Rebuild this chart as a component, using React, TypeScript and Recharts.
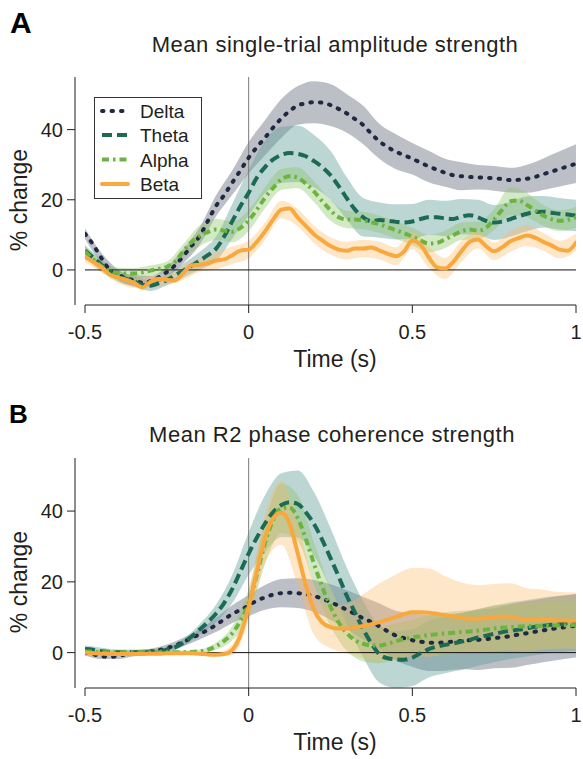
import { Area, ComposedChart, Line, ReferenceLine, XAxis, YAxis } from "recharts";

const FONT = "'Liberation Sans', Arial, sans-serif";
const INK = "#231f20";

// time grid (s), step 0.025
const TIME = [
  -0.5, -0.475, -0.45, -0.425, -0.4, -0.375, -0.35, -0.325, -0.3, -0.275,
  -0.25, -0.225, -0.2, -0.175, -0.15, -0.125, -0.1, -0.075, -0.05, -0.025,
  0, 0.025, 0.05, 0.075, 0.1, 0.125, 0.15, 0.175, 0.2, 0.225,
  0.25, 0.275, 0.3, 0.325, 0.35, 0.375, 0.4, 0.425, 0.45, 0.475,
  0.5, 0.525, 0.55, 0.575, 0.6, 0.625, 0.65, 0.675, 0.7, 0.725,
  0.75, 0.775, 0.8, 0.825, 0.85, 0.875, 0.9, 0.925, 0.95, 0.975, 1,
];
// bands are read on every other time point (step 0.05)
const BAND_TIME = TIME.filter((_, i) => i % 2 === 0);

const X_TICKS = [-0.5, 0, 0.5, 1];
const Y_TICKS = [0, 20, 40];

// Panel A: single-trial amplitude (% change)
const A_DELTA = [
  10.3, 7.2, 3.4, 0.1, -1.3, -2.3, -3, -3.6, -3.2, -2.1,
  -0.6, 1.3, 3.9, 6.8, 9.6, 13.9, 18.2, 21.3, 24.9, 28.4,
  32, 35, 37.7, 40.6, 43.2, 45.3, 46.9, 47.5, 47.8, 47.7,
  47, 45.9, 44.6, 43, 41.3, 38.8, 36.6, 35, 33.7, 32.7,
  31.7, 30.6, 29.5, 28.6, 27.7, 27, 26.7, 26.5, 26.4, 26.3,
  26.1, 25.9, 25.6, 25.7, 26, 26.5, 27.3, 28, 28.8, 29.5, 30.3,
];
const A_THETA = [
  5.5, 3.5, 1.5, -0.5, -1.8, -2.5, -3.3, -4.2, -4.5, -3.8,
  -2.9, -1.5, -0.2, 1.2, 2.6, 4.2, 6, 9.5, 13.9, 18.2,
  22, 26.3, 29.3, 31.5, 32.8, 33.3, 33.1, 32.4, 31, 29.3,
  27, 23.9, 20.4, 17.2, 15, 13.9, 14.2, 14, 13.7, 13.5,
  13.8, 14.5, 15, 15, 14.7, 14.5, 15.2, 15.6, 15, 14,
  13.5, 13.8, 14.5, 15.3, 16, 16.5, 16.6, 16.3, 16, 15.8, 15.5,
];
const A_ALPHA = [
  5.3, 3, 1, -0.2, -0.9, -1, -1, -0.7, -0.2, 0.3,
  0.9, 2.3, 5.3, 7.9, 9.7, 10.8, 11.5, 11.2, 10.9, 12,
  14.1, 17.2, 20.6, 23.4, 25.8, 26.7, 26.3, 24.6, 22.3, 19.6,
  17, 15, 14.4, 14.4, 14.1, 13.6, 13, 12.2, 11.3, 10.5,
  9.5, 8.4, 7.5, 7.7, 8.7, 9.9, 11, 11.5, 11.2, 12,
  14.4, 17.2, 19.6, 19.8, 18.5, 17, 15.5, 14.5, 14, 14.3, 15,
];
const A_BETA = [
  3.7, 2.3, 0.8, -1.3, -2.1, -2.8, -3.7, -5, -3.4, -2.5,
  -2.9, -3, -0.9, 1.3, 1.5, 1.9, 2.7, 3, 4.2, 5.5,
  5.8, 8, 11, 14.4, 17.2, 17.5, 14.9, 12.5, 10.1, 8.4,
  6.8, 5.8, 5.5, 6.1, 6.1, 6.4, 5.5, 4.6, 3.9, 5.3,
  8.4, 7.2, 3.6, 0.8, 0.4, 2.3, 5.3, 8, 8.7, 6.8,
  5.3, 6.5, 8.2, 9.1, 9.8, 9.2, 8, 7, 5.8, 5.5, 7.8,
];
// half-width of the shaded error bands, on BAND_TIME
const A_DELTA_SPREAD = [1.5, 1.5, 1.5, 1.5, 1.5, 1.5, 2, 2.5, 3, 3.5, 4.5, 5, 5.5, 5.5, 6, 6, 5.5, 5.5, 5, 5, 4.5, 4.5, 4, 4, 3.5, 3.5, 3.5, 4, 4.5, 5, 5.5];
const A_THETA_SPREAD = [1.5, 1.5, 1.5, 1.5, 1.5, 1.5, 2, 2.5, 3.5, 5, 6.5, 7.5, 8, 8, 7.5, 7, 6, 5.5, 5, 5, 5, 5, 5, 5, 5, 5, 5, 5, 4.5, 4.5, 4.5];
const A_ALPHA_SPREAD = [1.5, 1.5, 1.5, 1.5, 1.5, 1.5, 2, 3, 3, 3, 3, 3, 3, 3, 3, 3, 2.5, 2.5, 2.5, 2.5, 2.5, 2.5, 2.5, 2.5, 2.5, 3, 4, 3.5, 3, 3, 3];
const A_BETA_SPREAD = [1.5, 1.5, 1.5, 1.5, 1.5, 1.5, 2, 2, 2.5, 2.5, 2.5, 2.5, 2.5, 2.5, 2.5, 2.5, 2.5, 2.5, 2.5, 2.5, 2.5, 3, 3, 3, 2.5, 2.5, 3, 3, 2.5, 2.5, 2.5];

// Panel B: R2 phase coherence (% change)
const B_DELTA = [
  0, -0.5, -1, -1.2, -1, -0.5, -0.2, 0, 0.3, 0.7,
  1.3, 2, 3, 4.1, 5.2, 6.4, 7.8, 9.4, 10.9, 12.1,
  13.3, 14.7, 15.6, 16.4, 16.8, 16.9, 16.8, 16.5, 16, 15.2,
  14.3, 13.2, 12.1, 10.9, 9.7, 8.6, 7.4, 6, 4.8, 4.1,
  3.5, 3.1, 2.8, 2.8, 2.9, 3.1, 3.3, 3.5, 3.6, 3.8,
  4.1, 4.3, 4.7, 5.1, 5.5, 5.9, 6.3, 6.7, 7, 7.3, 7.6,
];
const B_THETA = [
  1, 0.8, 0.4, 0.2, 0.1, 0.1, 0.1, 0.1, 0.2, 0.4,
  0.8, 1.5, 2.8, 4.5, 6.5, 8.6, 11, 14, 18, 23,
  28, 32.5, 36.5, 39.7, 41.7, 42.5, 42, 39.6, 36.3, 31.8,
  26.7, 21.5, 16, 11.3, 6.6, 2.6, -0.5, -1.6, -1.9, -2,
  -1.4, -0.2, 1, 1.7, 2.2, 2.6, 3.1, 3.6, 4.3, 4.8,
  5.3, 5.8, 6.2, 6.5, 6.9, 7.3, 7.6, 7.9, 8.1, 8.3, 8.5,
];
const B_ALPHA = [
  0.3, 0.2, 0.1, 0.1, 0.1, 0.1, 0.1, 0.1, 0.1, 0.1,
  0.1, 0.1, 0.1, 0.2, 0.4, 0.8, 1.8, 3.3, 5.5, 9,
  14, 22, 31, 37.5, 40.8, 41, 38, 32, 25, 18.5,
  13, 8.5, 5.5, 3.5, 2.5, 2, 2, 2.5, 3.2, 3.8,
  4.3, 4.6, 5, 5.2, 5.4, 5.6, 5.8, 6, 6.2, 6.5,
  6.8, 7, 7.2, 7.4, 7.5, 7.55, 7.6, 7.65, 7.7, 7.75, 7.8,
];
const B_BETA = [
  0, -0.2, -0.3, -0.4, -0.4, -0.4, -0.4, -0.4, -0.3, -0.3,
  -0.2, -0.2, -0.2, -0.2, -0.3, -0.5, -0.6, -0.4, 0.8, 5,
  13, 23, 32.5, 38, 39.5, 36.5, 28, 19, 12, 8.5,
  7.2, 6.8, 6.8, 7.1, 7.5, 8, 8.6, 9.3, 10.1, 10.9,
  11.4, 11.4, 11.3, 11, 10.6, 10.2, 9.8, 9.6, 9.6, 9.7,
  9.9, 10.2, 10.1, 9.6, 9.2, 9.3, 9.3, 9.2, 9.1, 9.1, 9,
];
const B_DELTA_SPREAD = [0.8, 0.8, 0.8, 0.8, 0.8, 1, 1.2, 1.5, 2, 2.5, 3, 3.5, 4, 4.2, 4.5, 5, 5.5, 6, 6.5, 7, 7.5, 8, 8, 8, 8.5, 8.5, 9, 9, 9, 9, 9];
const B_THETA_SPREAD = [1, 1, 0.8, 0.8, 0.8, 0.8, 1, 1.5, 2.5, 4, 6, 8, 9, 9.5, 9, 8.5, 8, 8, 8, 8, 8, 8, 8, 8, 8, 8, 8, 8, 8, 8, 8];
const B_ALPHA_SPREAD = [0.5, 0.5, 0.5, 0.5, 0.5, 0.5, 0.5, 0.5, 1, 2, 4, 6, 7, 6.5, 6, 5.5, 5, 5, 5, 5, 5, 5.5, 6, 6, 6, 6.5, 6.5, 6.5, 6.5, 6.5, 6.5];
const B_BETA_SPREAD = [0.5, 0.5, 0.5, 0.5, 0.5, 0.5, 0.5, 0.5, 0.5, 1.5, 4, 7, 9, 9, 7, 6, 7, 9, 11, 12, 12.5, 12.5, 11, 10, 9.5, 9.5, 9.5, 9, 8.5, 8, 8];

const SERIES = [
  { name: "Delta", color: "#1f2941", band: "#7b808e", bandOpacity: 0.5, dash: "1.5 8", cap: "round" },
  { name: "Theta", color: "#1b6a54", band: "#5f9e98", bandOpacity: 0.42, dash: "10 5", cap: "butt" },
  { name: "Alpha", color: "#6db33f", band: "#8cc466", bandOpacity: 0.38, dash: "7 4 2.5 4", cap: "butt" },
  { name: "Beta", color: "#f9a83e", band: "#fbb862", bandOpacity: 0.35, dash: undefined, cap: "round" },
];

const tickStyle = { fill: INK, fontSize: 20, fontFamily: FONT };

function Panel({ top, height, marginTop, marginBottom, values, spreads }) {
  const lines = values.map((vals) => TIME.map((t, i) => ({ t, v: vals[i] })));
  const bands = values.map((vals, s) =>
    BAND_TIME.map((t, k) => ({
      t,
      range: [vals[2 * k] - spreads[s][k], vals[2 * k] + spreads[s][k]],
    }))
  );
  return (
    <div style={{ position: "absolute", left: 0, top }}>
      <ComposedChart
        width={583}
        height={height}
        margin={{ top: marginTop, right: 7, bottom: marginBottom, left: 0 }}
      >
        <XAxis
          dataKey="t"
          type="number"
          domain={[-0.5, 1]}
          ticks={X_TICKS}
          interval={0}
          allowDataOverflow
          padding={{ left: 10, right: 0 }}
          axisLine={false}
          tickLine={{ stroke: INK }}
          tickSize={8}
          tickMargin={12}
          tick={tickStyle}
          height={40}
        />
        <YAxis
          type="number"
          domain={[-10, 55]}
          ticks={Y_TICKS}
          interval={0}
          allowDataOverflow
          width={75}
          axisLine={{ stroke: INK }}
          tickLine={{ stroke: INK }}
          tickSize={8}
          tickMargin={4}
          tick={tickStyle}
        />
        {bands.map((b, s) => (
          <Area
            key={`band-${SERIES[s].name}`}
            data={b}
            dataKey="range"
            type="monotone"
            stroke="none"
            fill={SERIES[s].band}
            fillOpacity={SERIES[s].bandOpacity}
            isAnimationActive={false}
          />
        ))}
        <ReferenceLine x={0} stroke="#7a7a7a" strokeWidth={1} />
        <ReferenceLine segment={[{ x: -0.5, y: 0 }, { x: 1, y: 0 }]} stroke="#111" strokeWidth={1} />
        <ReferenceLine segment={[{ x: -0.5, y: -10 }, { x: 1, y: -10 }]} stroke={INK} strokeWidth={1} />
        {lines.map((d, s) => (
          <Line
            key={`line-${SERIES[s].name}`}
            data={d}
            dataKey="v"
            name={SERIES[s].name}
            type="monotone"
            stroke={SERIES[s].color}
            strokeWidth={4}
            strokeDasharray={SERIES[s].dash}
            strokeLinecap={SERIES[s].cap}
            dot={false}
            activeDot={false}
            isAnimationActive={false}
          />
        ))}
      </ComposedChart>
    </div>
  );
}

const legendRows = [111, 135, 159.5, 184];

export default function App() {
  return (
    <div style={{ position: "absolute", left: 0, top: 0, width: 583, height: 759, background: "#fff" }}>
      <Panel
        top={0}
        height={380}
        marginTop={77}
        marginBottom={35}
        values={[A_DELTA, A_THETA, A_ALPHA, A_BETA]}
        spreads={[A_DELTA_SPREAD, A_THETA_SPREAD, A_ALPHA_SPREAD, A_BETA_SPREAD]}
      />
      <Panel
        top={380}
        height={379}
        marginTop={78}
        marginBottom={31}
        values={[B_DELTA, B_THETA, B_ALPHA, B_BETA]}
        spreads={[B_DELTA_SPREAD, B_THETA_SPREAD, B_ALPHA_SPREAD, B_BETA_SPREAD]}
      />
      <svg
        width={583}
        height={759}
        style={{ position: "absolute", left: 0, top: 0, pointerEvents: "none" }}
        fontFamily={FONT}
        fill={INK}
      >
        <text x={10} y={33} fontSize={30} fontWeight="bold" fill="#000">A</text>
        <text x={9} y={423} fontSize={26} fontWeight="bold" fill="#000">B</text>
        <text x={335} y={52} fontSize={22} letterSpacing={0.5} textAnchor="middle">
          Mean single-trial amplitude strength
        </text>
        <text x={332} y={442} fontSize={22} letterSpacing={0.5} textAnchor="middle">
          Mean R2 phase coherence strength
        </text>
        <text x={27} y={200} fontSize={23} textAnchor="middle" transform="rotate(-90, 27, 200)">
          % change
        </text>
        <text x={27} y={582} fontSize={23} textAnchor="middle" transform="rotate(-90, 27, 582)">
          % change
        </text>
        <text x={335} y={367} fontSize={23} textAnchor="middle">Time (s)</text>
        <text x={335} y={750} fontSize={23} textAnchor="middle">Time (s)</text>

        <rect x={94.5} y={97.5} width={107} height={101} fill="#fff" stroke="#333" strokeWidth={1} />
        {SERIES.map((s, i) => (
          <g key={s.name}>
            <line
              x1={102}
              x2={128}
              y1={legendRows[i]}
              y2={legendRows[i]}
              stroke={s.color}
              strokeWidth={4}
              strokeDasharray={s.dash}
              strokeLinecap={s.cap}
            />
            <text x={140} y={legendRows[i] + 7} fontSize={19}>{s.name}</text>
          </g>
        ))}
      </svg>
    </div>
  );
}
